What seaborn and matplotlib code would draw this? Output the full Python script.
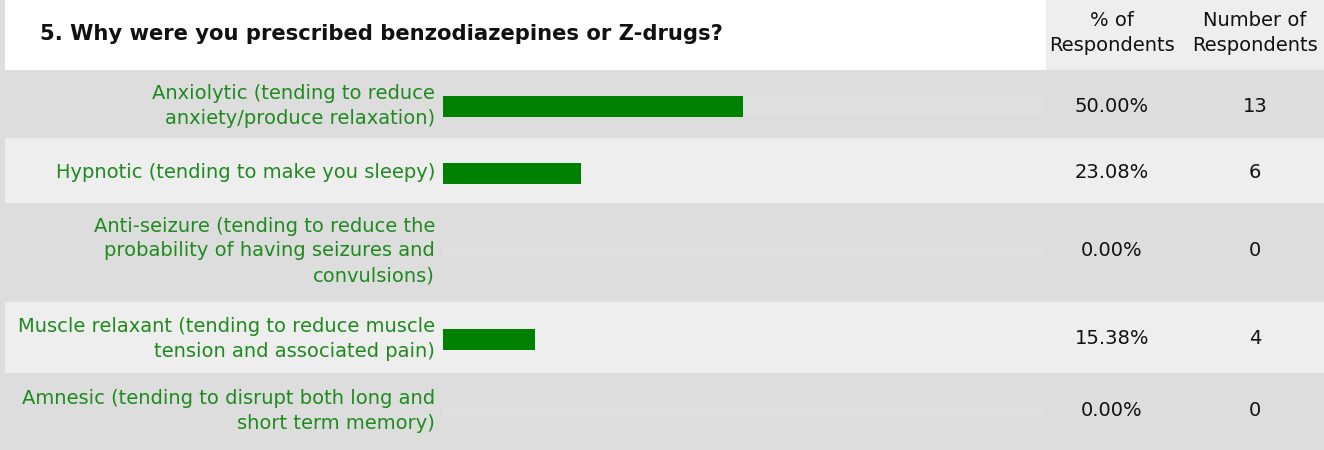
"""
Survey question 5 - reasons for benzodiazepine / Z-drug prescription.
Table-style horizontal bar chart: label | bar | % | count.
"""

import numpy as np
import pandas as pd
import matplotlib
matplotlib.use("Agg")
import matplotlib.pyplot as plt
import seaborn as sns
from matplotlib.patches import Rectangle

# ── Data ──────────────────────────────────────────────────────────────────────
title = "5. Why were you prescribed benzodiazepines or Z-drugs?"
answers = [
    "Anxiolytic (tending to reduce\nanxiety/produce relaxation)",
    "Hypnotic (tending to make you sleepy)",
    "Anti-seizure (tending to reduce the\nprobability of having seizures and\nconvulsions)",
    "Muscle relaxant (tending to reduce muscle\ntension and associated pain)",
    "Amnesic (tending to disrupt both long and\nshort term memory)",
]
pct_respondents = [50.00, 23.08, 0.00, 15.38, 0.00]
num_respondents = [13, 6, 0, 4, 0]
col_headers = ["% of\nRespondents", "Number of\nRespondents"]

# ── Layout (pixels) ───────────────────────────────────────────────────────────
W, H = 1324, 450
HEADER_H = 70
row_edges = [70, 138, 203, 302, 373, 450]
row_centers = [106, 173, 251, 339, 411]
BAR_X0, BAR_W = 443, 600
BAR_H = 21
PCT_X, NUM_X = 1112, 1255

DARK = "#dddddd"
LIGHT = "#eeeeee"
GREEN = "#008000"
LABEL_GREEN = "#1e8a1e"
INK = "#111111"
FS = 14

sns.set_theme(style="white")
plt.rcParams["font.family"] = ["DejaVu Sans"]

fig = plt.figure(figsize=(W / 100, H / 100), dpi=100)
fig.patch.set_facecolor(DARK)

# background / text layer in pixel coordinates
bg = fig.add_axes([0, 0, 1, 1])
bg.set_xlim(0, W)
bg.set_ylim(H, 0)
bg.axis("off")

bg.add_patch(Rectangle((5, 0), 1046 - 5, HEADER_H, color="white", lw=0))
bg.add_patch(Rectangle((1046, 0), W - 1046, HEADER_H, color=LIGHT, lw=0))
for i in range(len(answers)):
    top, bot = row_edges[i], row_edges[i + 1]
    if i % 2 == 1:
        bg.add_patch(Rectangle((5, top), W - 5, bot - top, color=LIGHT, lw=0))

bg.text(40, 34, title, fontsize=15.2, fontweight="bold", color=INK,
        ha="left", va="center")
for hdr, x in zip(col_headers, [PCT_X, NUM_X]):
    bg.text(x, 33, hdr, fontsize=FS, ha="center", va="center",
            color=INK, linespacing=1.4)

for label, pct, num, yc in zip(answers, pct_respondents, num_respondents, row_centers):
    bg.text(435, yc, label, fontsize=FS, color=LABEL_GREEN, ha="right",
            va="center", linespacing=1.4)
    bg.text(PCT_X, yc, f"{pct:.2f}%", fontsize=FS, color=INK,
            ha="center", va="center")
    bg.text(NUM_X, yc, str(num), fontsize=FS, color=INK,
            ha="center", va="center")

# ── Bars ──────────────────────────────────────────────────────────────────────
bar_ax = fig.add_axes([BAR_X0 / W, 0, BAR_W / W, 1])
bar_ax.patch.set_alpha(0)

df = pd.DataFrame({"answer": answers, "pct": pct_respondents, "y": row_centers})
df["track"] = 100.0
bar_width = BAR_H / np.min(np.diff(row_centers))

# barely visible 100% track behind each bar
sns.barplot(data=df, x="track", y="y", orient="y", native_scale=True,
            width=bar_width, color="white", alpha=0.07, linewidth=0,
            ax=bar_ax)
sns.barplot(data=df, x="pct", y="y", orient="y", native_scale=True,
            width=bar_width, color=GREEN, saturation=1, linewidth=0,
            ax=bar_ax)
bar_ax.set_xlim(0, 100)
bar_ax.set_ylim(H, 0)
bar_ax.axis("off")

fig.savefig("out.png", dpi=100, facecolor=fig.get_facecolor())
